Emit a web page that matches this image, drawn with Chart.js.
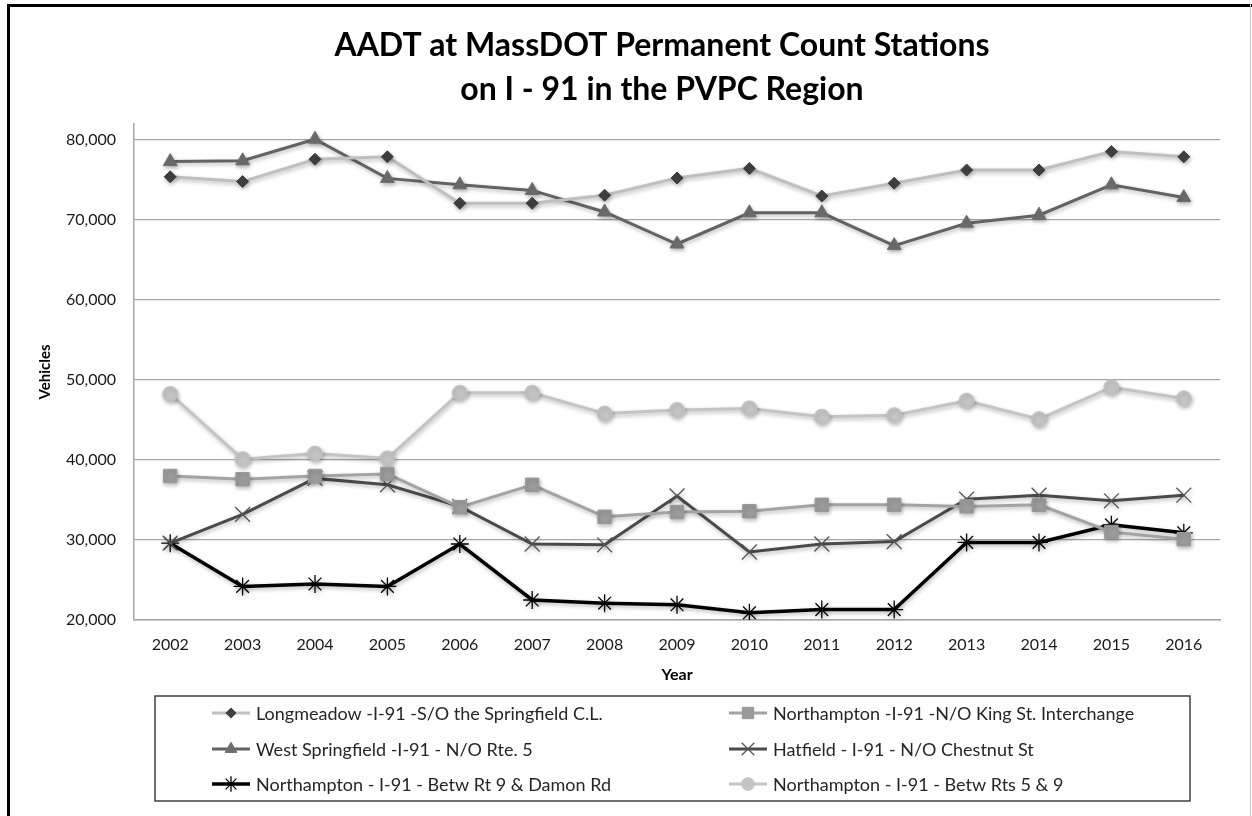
<!DOCTYPE html>
<html>
<head>
<meta charset="utf-8">
<script src="https://cdn.jsdelivr.net/npm/chart.js@4.4.1/dist/chart.umd.min.js"></script>
<style>
    html, body { margin: 0; width: 1252px; height: 816px; overflow: hidden; background: #fff; }
    #frame { position: absolute; left: 7px; top: 4px; width: 1400px; height: 900px; border-left: 3px solid #000; border-top: 3px solid #000; }
    #edge { position: absolute; left: 1250px; top: 4px; width: 1px; height: 812px; background: #c8c8c8; }
    #chart { position: absolute; left: 10px; top: 7px; }
</style>
</head>
<body>
<div id="frame"></div>
<div id="edge"></div>
<canvas id="chart" width="1304" height="809"></canvas>
<script>
// Data
const years = ['2002', '2003', '2004', '2005', '2006', '2007', '2008', '2009', '2010', '2011', '2012', '2013', '2014', '2015', '2016'];
const yTicks = [20000, 30000, 40000, 50000, 60000, 70000, 80000];

const longmeadow      = [75400, 74800, 77600, 77900, 72100, 72100, 73100, 75250, 76450, 73000, 74600, 76250, 76250, 78550, 77900];
const kingStreet      = [38000, 37600, 38000, 38250, 34100, 36900, 32900, 33500, 33600, 34400, 34400, 34200, 34400, 31000, 30100];
const westSpringfield = [77300, 77400, 80100, 75200, 74400, 73700, 71000, 67000, 70900, 70900, 66800, 69600, 70600, 74400, 72800];
const hatfield        = [29600, 33200, 37700, 36900, 34200, 29500, 29400, 35500, 28500, 29500, 29800, 35100, 35600, 34900, 35600];
const damonRoad       = [29600, 24200, 24500, 24200, 29500, 22500, 22100, 21900, 20900, 21300, 21300, 29700, 29700, 31900, 30900];
const rts5and9        = [48250, 40100, 40800, 40200, 48400, 48400, 45800, 46250, 46450, 45400, 45600, 47400, 45100, 49100, 47700];

const FONT = 'Lato';

function series(label, data, line, width, style, radius, fill, stroke, strokeWidth) {
    return {
        label: label,
        data: data,
        borderColor: line,
        borderWidth: width,
        tension: 0,
        pointStyle: style,
        pointRadius: radius,
        pointHoverRadius: radius,
        pointBackgroundColor: fill,
        pointBorderColor: stroke,
        pointBorderWidth: strokeWidth
    };
}

// Soft drop shadow like the Excel series
const shadow = {
    id: 'shadow',
    beforeDatasetDraw(chart) {
        const ctx = chart.ctx;
        ctx.save();
        ctx.shadowColor = 'rgba(0,0,0,0.28)';
        ctx.shadowBlur = 4;
        ctx.shadowOffsetX = 1;
        ctx.shadowOffsetY = 2;
    },
    afterDatasetDraw(chart) {
        chart.ctx.restore();
    }
};

// The left padding only serves to centre the title; let the y axis use the full left margin again
const widenYAxis = {
    id: 'widenYAxis',
    afterLayout(chart) {
        chart.scales.y.left = 0;
    }
};

// Two-column boxed legend under the plot
const boxLegend = {
    id: 'boxLegend',
    afterDraw(chart, args, opts) {
        const ctx = chart.ctx;
        ctx.save();
        ctx.strokeStyle = opts.borderColor;
        ctx.lineWidth = 1.5;
        ctx.strokeRect(opts.left, opts.top, opts.width, opts.height);
        ctx.font = opts.font;
        ctx.textBaseline = 'middle';
        ctx.textAlign = 'left';
        chart.data.datasets.forEach((ds, i) => {
            const x = opts.colX[i % 2];
            const y = opts.rowY[Math.floor(i / 2)];
            ctx.strokeStyle = ds.borderColor;
            ctx.lineWidth = ds.borderWidth;
            ctx.beginPath();
            ctx.moveTo(x, y);
            ctx.lineTo(x + opts.lineLength, y);
            ctx.stroke();
            ctx.fillStyle = ds.pointBackgroundColor;
            ctx.strokeStyle = ds.pointBorderColor;
            ctx.lineWidth = ds.pointBorderWidth;
            Chart.helpers.drawPoint(ctx, {
                pointStyle: ds.pointStyle,
                radius: ds.pointRadius * 0.85,
                borderWidth: ds.pointBorderWidth,
                rotation: 0
            }, x + opts.lineLength / 2, y);
            ctx.fillStyle = opts.color;
            ctx.fillText(ds.label, x + opts.lineLength + 6, y + 1);
        });
        ctx.restore();
    }
};

new Chart(document.getElementById('chart'), {
    type: 'line',
    data: {
        labels: years,
        datasets: [
            series('Longmeadow -I-91 -S/O the Springfield C.L.', longmeadow, '#bfbfbf', 3, 'rectRot', 6, '#404040', '#404040', 1),
            series('Northampton -I-91 -N/O King St. Interchange', kingStreet, '#a3a3a3', 3, 'rect', 9.5, '#9b9b9b', '#9b9b9b', 1),
            series('West Springfield -I-91 - N/O Rte. 5', westSpringfield, '#636363', 3, 'triangle', 8, '#6e6e6e', '#6e6e6e', 1),
            series('Hatfield - I-91 - N/O Chestnut St', hatfield, '#4a4a4a', 3, 'crossRot', 10.5, '#555555', '#555555', 1.3),
            series('Northampton - I-91 - Betw Rt 9 & Damon Rd', damonRoad, '#000000', 3.5, 'star', 9, '#000000', '#000000', 1.3),
            series('Northampton - I-91 - Betw Rts 5 & 9', rts5and9, '#c4c4c4', 3, 'circle', 7.5, '#c4c4c4', '#c4c4c4', 1)
        ]
    },
    options: {
        responsive: false,
        devicePixelRatio: 1,
        animation: false,
        layout: { padding: { left: 94, right: 94, top: 0, bottom: 132 } },
        plugins: {
            legend: { display: false },
            tooltip: { enabled: false },
            title: {
                display: true,
                text: ['AADT at MassDOT Permanent Count Stations', 'on I - 91 in the PVPC Region'],
                color: '#000',
                font: { family: FONT, size: 32, weight: 'bold', lineHeight: 1.375 },
                padding: { top: 17, bottom: 12 }
            },
            boxLegend: {
                left: 145, top: 689, width: 1035, height: 105,
                colX: [202, 719],
                rowY: [706, 742, 777],
                lineLength: 38,
                borderColor: '#404040',
                color: '#262626',
                font: '18px ' + FONT
            }
        },
        scales: {
            x: {
                offset: true,
                grid: { display: false, drawTicks: false },
                border: { display: true, color: '#a6a6a6', width: 1.5 },
                ticks: { color: '#1a1a1a', padding: 15, font: { family: FONT, size: 16 } },
                title: {
                    display: true,
                    text: 'Year',
                    color: '#000',
                    font: { family: FONT, size: 16, weight: 'bold', lineHeight: 1.2 },
                    padding: { top: 0, bottom: 0 }
                },
                afterFit: scale => { scale.height = 64; }
            },
            y: {
                min: 20000,
                max: 82000,
                afterBuildTicks: scale => { scale.ticks = yTicks.map(v => ({ value: v })); },
                grid: { color: '#a6a6a6', lineWidth: 1.3, drawTicks: false },
                border: { display: true, color: '#a6a6a6', width: 1.5 },
                ticks: {
                    color: '#1a1a1a',
                    padding: 18,
                    font: { family: FONT, size: 16 },
                    callback: v => v.toLocaleString('en-US')
                },
                title: {
                    display: true,
                    text: 'Vehicles',
                    color: '#000',
                    font: { family: FONT, size: 15, weight: 'bold', lineHeight: 1.2 },
                    padding: { top: 26, bottom: 0 }
                },
                afterFit: scale => { scale.width = 30; }
            }
        }
    },
    plugins: [shadow, widenYAxis, boxLegend]
});
</script>
</body>
</html>
